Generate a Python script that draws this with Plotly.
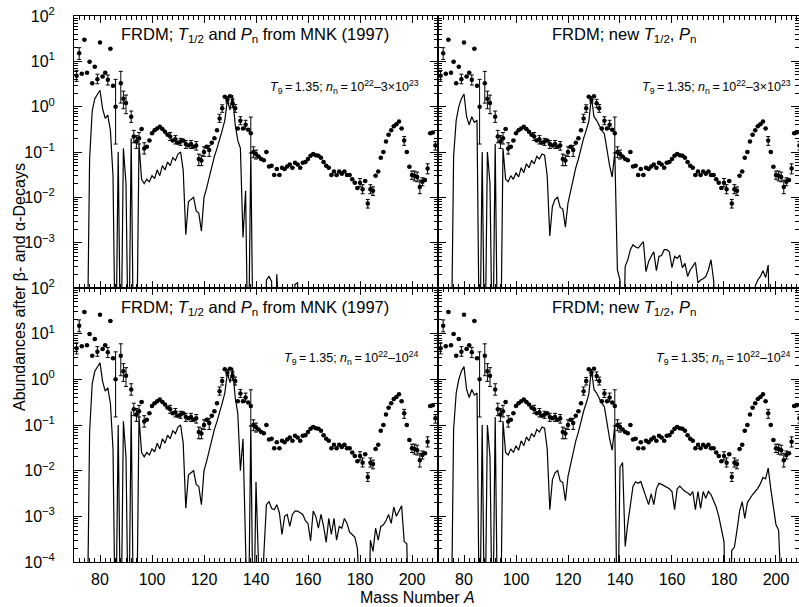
import plotly.graph_objects as go

# ---------------- data ----------------
A_line = list(range(70, 211))

# calculated abundances, A = 70..132 (MNK 1997 half-lives / Pn)
mnk_low = [1e-6, 1e-6, 1e-6, 1e-6, 1e-6, 1e-6, 0.07, 0.8, 1.5, 1.9,          # 70-79
           2.3, 0.9, 0.55, 0.65, 0.3, 0.03, 1e-6, 0.1, 1e-6, 0.12,           # 80-89
           0.02, 1e-6, 0.2, 1e-6, 1e-6, 0.15, 0.025, 0.02, 0.025, 0.022,     # 90-99
           0.03, 0.026, 0.04, 0.03, 0.05, 0.04, 0.06, 0.05, 0.075, 0.065,    # 100-109
           0.09, 0.1, 0.04, 0.0015, 0.008, 0.009, 0.01, 0.005, 0.0045, 0.0018,  # 110-119
           0.01, 0.016, 0.028, 0.05, 0.08, 0.12, 0.18, 0.3, 0.5, 1.4,        # 120-129
           0.85, 1.8, 0.4]                                                   # 130-132
# calculated abundances, A = 70..132 (new half-lives / Pn)
new_low = [1e-6, 1e-6, 1e-6, 1e-6, 1e-6, 1e-6, 0.08, 0.5, 1.0, 1.5,
           1.9, 0.6, 0.4, 0.6, 0.45, 0.5, 1e-6, 0.1, 1e-6, 0.1,
           0.02, 1e-6, 0.15, 1e-6, 1e-6, 0.12, 0.025, 0.022, 0.03, 0.025,
           0.035, 0.028, 0.045, 0.035, 0.055, 0.045, 0.065, 0.055, 0.08, 0.07,
           0.09, 0.085, 0.03, 0.0014, 0.0063, 0.009, 0.01, 0.006, 0.0055, 0.0022,
           0.0075, 0.014, 0.025, 0.045, 0.07, 0.12, 0.2, 0.3, 0.47, 1.66,
           0.6, 0.5, 0.38]

# A = 133..210 for each panel
tl_high = [0.18, 0.12, 0.0013, 0.014, 1e-6, 0.1, 1e-6,                      # 133-139
           1e-6, 1e-6, 1e-6, 1e-6, 1.5e-4, 1.8e-4, 1.4e-4, 1e-6, 2e-4, 1e-6,  # 140-149
           1e-6, 1e-6, 1e-6, 1e-6, 1e-6, 1.2e-4, 1.3e-4, 1e-6, 1e-6, 1e-6,   # 150-159
           1e-6, 1e-6, 1e-6, 1e-6, 1e-6, 1e-6, 1e-6, 1e-6, 1e-6, 1e-6,       # 160-169
           1e-6, 1e-6, 1e-6, 1e-6, 1e-6, 1e-6, 1e-6, 1e-6, 1e-6, 1e-6,       # 170-179
           1e-6, 1e-6, 1e-6, 1e-6, 1e-6, 1e-6, 1e-6, 1e-6, 1e-6, 1e-6,       # 180-189
           1e-6, 1e-6, 1e-6, 1e-6, 1e-6, 1e-6, 1e-6, 1e-6, 1e-6, 1e-6,       # 190-199
           1e-6, 1e-6, 1e-6, 1e-6, 1e-6, 1e-6, 1e-6, 1e-6, 1e-6, 1e-6, 1e-6]  # 200-210
tr_high = [0.3, 0.25, 0.1, 0.05, 0.028, 0.1, 2.5e-4,
           1.5e-4, 1e-6, 3e-4, 4.2e-4, 7e-4, 9e-4, 8e-4, 7.6e-4, 9e-4, 1.05e-3,
           2.3e-4, 3.8e-4, 5e-4, 6.3e-4, 2.4e-4, 5e-4, 5.2e-4, 7e-4, 7e-4, 6.3e-4,
           2.8e-4, 5e-4, 4.5e-4, 5.3e-4, 2.8e-4, 3.5e-4, 1.8e-4, 2.5e-4, 3e-4, 3.7e-4,
           1.3e-4, 1.5e-4, 1.6e-4, 1.8e-4, 2.5e-4, 4.2e-4, 1.5e-4, 1e-6, 1e-6, 1e-6,
           1e-6, 1e-6, 1e-6, 1e-6, 1e-6, 1e-6, 1e-6, 1e-6, 1e-6, 1e-6,
           1e-6, 1e-6, 1.1e-4, 1.5e-4, 1.8e-4, 2.4e-4, 1.7e-4, 3.2e-4, 1e-6, 1e-6,
           1e-6, 1e-6, 1e-6, 1e-6, 1e-6, 1e-6, 1e-6, 1e-6, 1e-6, 1e-6, 1e-6]
bl_high = [0.18, 0.01, 0.05, 2.2e-4, 1e-6, 0.1, 1e-6,
           0.0057, 1e-6, 1e-6, 1.4e-4, 0.0018, 0.0021, 0.0015, 0.0014, 0.0018, 0.0012,
           4e-4, 0.001, 0.0011, 6e-4, 0.0011, 0.0013, 0.0013, 0.0012, 0.0011, 8e-4,
           7e-4, 2.9e-4, 0.0013, 0.001, 5.5e-4, 0.0011, 6e-4, 2.7e-4, 9e-4, 4e-4,
           9e-4, 3e-4, 6e-4, 5.5e-4, 9e-4, 7e-4, 4.5e-4, 4e-4, 3.5e-4, 2e-4,
           1e-6, 1e-6, 1e-6, 1e-6, 3e-4, 1.7e-4, 5.5e-4, 3e-4, 6e-4, 6.5e-4,
           8e-4, 0.0011, 7e-4, 0.0016, 0.001, 0.0013, 0.0017, 2.8e-4, 2.5e-4, 1e-6,
           1e-6, 1e-6, 1e-6, 1e-6, 1e-6, 1e-6, 1e-6, 1e-6, 1e-6, 1e-6, 1e-6]
br_high = [0.3, 0.25, 0.1, 0.05, 0.028, 0.1, 1e-6,
           0.012, 0.015, 2.2e-4, 7e-4, 0.002, 0.0045, 0.0057, 0.0053, 0.0058, 0.004,
           0.0025, 0.0018, 0.0031, 0.0018, 0.004, 0.0053, 0.005, 0.0046, 0.0043, 0.004,
           0.0035, 0.0014, 0.004, 0.0046, 0.004, 0.0035, 0.0033, 0.0029, 0.0035, 0.0014,
           0.0035, 0.0015, 0.0035, 0.0025, 0.0035, 0.003, 0.0022, 0.0016, 0.001, 5e-4,
           2.8e-4, 1e-6, 1e-6, 1.8e-4, 2.1e-4, 5e-4, 0.0013, 0.0021, 9e-4, 0.002,
           0.0025, 0.003, 0.0035, 0.0041, 0.0052, 0.0071, 0.0066, 0.0114, 0.004, 0.0015,
           6.5e-4, 5e-4, 1e-6, 1e-6, 1e-6, 1e-6, 1e-6, 1e-6, 1e-6, 1e-6, 1e-6]

# solar r-process abundances (points)
A_sol = [71, 72, 73, 74, 75, 76, 77, 78, 79, 80,
         81, 82, 83, 84, 85, 86, 88, 89, 90] + list(range(92, 210))
Y_sol = [4.8, 15, 5.3, 30, 5.6, 9.8, 3.3, 7.6, 4.0, 26,
         4.6, 5.6, 3.9, 19, 2.9, 1.0, 3.3, 1.5, 1.2,
         0.6, 0.22, 0.17, 0.2, 0.32, 0.12, 0.13, 0.18,                    # 92-99
         0.26, 0.3, 0.33, 0.36, 0.32, 0.28, 0.24, 0.22, 0.18, 0.19,      # 100-109
         0.16, 0.17, 0.18, 0.15, 0.14, 0.15, 0.13, 0.14, 0.07, 0.065,    # 110-119
         0.1, 0.13, 0.11, 0.16, 0.2, 0.3, 0.55, 0.92, 1.66, 1.4,         # 120-129
         1.7, 1.19, 0.92, 0.33, 0.49, 0.33, 0.4, 0.31, 0.26, 0.1,        # 130-139
         0.09, 0.08, 0.07, 0.066, 0.1, 0.048, 0.05, 0.031, 0.042, 0.031, # 140-149
         0.045, 0.042, 0.048, 0.053, 0.045, 0.058, 0.053, 0.045, 0.058, 0.06,  # 150-159
         0.07, 0.083, 0.09, 0.085, 0.083, 0.075, 0.06, 0.05, 0.045, 0.031,     # 160-169
         0.037, 0.031, 0.037, 0.033, 0.037, 0.031, 0.031, 0.025, 0.021, 0.016, # 170-179
         0.021, 0.015, 0.023, 0.0073, 0.015, 0.014, 0.03, 0.037, 0.075, 0.1,   # 180-189
         0.17, 0.24, 0.3, 0.37, 0.41, 0.47, 0.33, 0.18, 0.1, 0.047,            # 190-199
         0.031, 0.03, 0.028, 0.017, 0.022, 0.024, 0.043, 0.26, 0.27, 0.14]     # 200-209
# error bars (mass number, lower end, upper end)
A_err = [71, 72, 79, 83, 86, 88, 89, 90, 92, 93, 94, 95, 97, 107, 109, 111, 113, 115, 117,
         118, 119, 120, 122, 126, 127, 129, 131, 132, 134, 136, 138, 139, 140,
         180, 181, 183, 184, 185, 197, 200, 201, 202, 203, 204, 206, 209]
Y_err_lo = [3.6, 11, 3.2, 3.0, 0.15, 1.2, 0.9, 0.7, 0.45, 0.16, 0.12, 0.15, 0.09, 0.18, 0.15, 0.14, 0.12, 0.12, 0.11,
            0.05, 0.05, 0.08, 0.08, 0.45, 0.75, 1.2, 0.95, 0.75, 0.4, 0.32, 0.095, 0.075, 0.07,
            0.017, 0.012, 0.0058, 0.012, 0.011, 0.14, 0.025, 0.023, 0.022, 0.012, 0.018, 0.033, 0.11]
Y_err_hi = [6.3, 20, 5.2, 5.0, 4.0, 6.0, 2.2, 1.8, 0.8, 0.3, 0.23, 0.27, 0.16, 0.27, 0.23, 0.2, 0.18, 0.18, 0.17,
            0.09, 0.085, 0.13, 0.14, 0.68, 1.1, 1.65, 1.45, 1.12, 0.6, 0.5, 0.59, 0.13, 0.11,
            0.026, 0.019, 0.009, 0.019, 0.017, 0.22, 0.038, 0.038, 0.036, 0.024, 0.027, 0.055, 0.17]

panel_titles = ["FRDM; <i>T</i><sub>1/2</sub> and <i>P</i><sub>n</sub> from MNK (1997)",
                "FRDM; new <i>T</i><sub>1/2</sub>, <i>P</i><sub>n</sub>"]
cond_top = "<i>T</i><sub>9</sub>\u2009=\u20091.35; <i>n</i><sub>n</sub>\u2009=\u200910<sup>22</sup>\u20133\u00d710<sup>23</sup>"
cond_bot = "<i>T</i><sub>9</sub>\u2009=\u20091.35; <i>n</i><sub>n</sub>\u2009=\u200910<sup>22</sup>\u201310<sup>24</sup>"
x_ticks = [80, 100, 120, 140, 160, 180, 200]
y_tickvals = [1e-4, 1e-3, 1e-2, 1e-1, 1, 10, 100]
y_ticktext = ["10<sup>\u22124</sup>", "10<sup>\u22123</sup>", "10<sup>\u22122</sup>", "10<sup>\u22121</sup>",
              "10<sup>0</sup>", "10<sup>1</sup>", "10<sup>2</sup>"]

# ---------------- figure ----------------
W, H = 799, 607
def fx(p): return p / W
def fy(p): return 1 - p / H

err_plus, err_minus = [], []
for a, y in zip(A_sol, Y_sol):
    if a in A_err:
        i = A_err.index(a)
        err_plus.append(Y_err_hi[i] - y)
        err_minus.append(y - Y_err_lo[i])
    else:
        err_plus.append(0)
        err_minus.append(0)

lines = [mnk_low + tl_high, new_low + tr_high, mnk_low + bl_high, new_low + br_high]

fig = go.Figure()
for k in range(4):
    xa = "x" if k == 0 else f"x{k+1}"
    ya = "y" if k == 0 else f"y{k+1}"
    fig.add_trace(go.Scatter(x=A_line, y=lines[k], mode="lines",
                             line=dict(color="black", width=1.2),
                             xaxis=xa, yaxis=ya, showlegend=False, hoverinfo="skip"))
    fig.add_trace(go.Scatter(x=A_sol, y=Y_sol, mode="markers",
                             marker=dict(color="black", size=4.5),
                             error_y=dict(type="data", array=err_plus, arrayminus=err_minus,
                                          color="black", thickness=1, width=2),
                             xaxis=xa, yaxis=ya, showlegend=False, hoverinfo="skip"))

minor_vals = [m * 10.0 ** e for e in range(-4, 2) for m in range(2, 10)]
xdom_l = [fx(74), fx(438)]
xdom_r = [fx(438), 1.0]
ydom_t = [fy(288), fy(16)]
ydom_b = [fy(562), fy(288)]
font_tick = dict(family="Liberation Sans, Arial, sans-serif", size=16, color="black")

def xax(dom, rng, anchor, labels):
    return dict(domain=dom, range=rng, anchor=anchor, showgrid=False, zeroline=False,
                automargin=False,
                showline=True, linecolor="black", linewidth=1, mirror="allticks",
                ticks="inside", ticklen=7, tickwidth=1, tickcolor="black",
                tickmode="array", tickvals=x_ticks, ticktext=[str(v) for v in x_ticks],
                showticklabels=labels, tickfont=font_tick, ticklabelstandoff=3,
                minor=dict(ticks="inside", ticklen=4, dtick=2, tick0=0, tickcolor="black", showgrid=False))

def yax(dom, anchor, labels, texts):
    return dict(domain=dom, type="log", range=[-4, 2], anchor=anchor, showgrid=False, zeroline=False,
                automargin=False,
                showline=True, linecolor="black", linewidth=1, mirror="allticks",
                ticks="inside", ticklen=8, tickwidth=1, tickcolor="black",
                tickmode="array", tickvals=y_tickvals, ticktext=texts,
                showticklabels=labels, tickfont=font_tick, ticklabelstandoff=15,
                minor=dict(ticks="inside", ticklen=4, tickmode="array", tickvals=minor_vals,
                           tickcolor="black", showgrid=False))

top_text = [""] + y_ticktext[1:]
fig.update_layout(
    width=W, height=H, margin=dict(l=0, r=0, t=0, b=0, autoexpand=False),
    paper_bgcolor="white", plot_bgcolor="white",
    font=dict(family="Liberation Sans, Arial, sans-serif", color="black"),
    xaxis=xax(xdom_l, [70, 210], "y", False),
    xaxis2=xax(xdom_r, [70, 208.85], "y2", False),
    xaxis3=xax(xdom_l, [70, 210], "y3", True),
    xaxis4=xax(xdom_r, [70, 208.85], "y4", True),
    yaxis=yax(ydom_t, "x", True, top_text),
    yaxis2=yax(ydom_t, "x2", False, y_ticktext),
    yaxis3=yax(ydom_b, "x3", True, y_ticktext),
    yaxis4=yax(ydom_b, "x4", False, y_ticktext),
)

ann = []
f_title = dict(family="Liberation Sans, Arial, sans-serif", size=16.5, color="black")
f_cond = dict(family="Liberation Sans, Arial, sans-serif", size=12.5, color="black")
for (tx, ty, txt) in [(119, 35, panel_titles[0]), (550, 35, panel_titles[1]),
                      (119, 308, panel_titles[0]), (550, 308, panel_titles[1])]:
    ann.append(dict(x=fx(tx), y=fy(ty), xref="paper", yref="paper", text=txt, showarrow=False,
                    xanchor="left", yanchor="middle", font=f_title))
for (tx, ty, txt) in [(421, 87, cond_top), (793, 87, cond_top), (421, 358, cond_bot), (793, 358, cond_bot)]:
    ann.append(dict(x=fx(tx), y=fy(ty), xref="paper", yref="paper", text=txt, showarrow=False,
                    xanchor="right", yanchor="middle", font=f_cond))
ann.append(dict(x=fx(19), y=fy(287), xref="paper", yref="paper", text="Abundances after \u03b2- and \u03b1-Decays",
                showarrow=False, textangle=-90, xanchor="center", yanchor="middle",
                font=dict(family="Liberation Sans, Arial, sans-serif", size=16, color="black")))
ann.append(dict(x=fx(417), y=fy(597), xref="paper", yref="paper", text="Mass Number <i>A</i>",
                showarrow=False, xanchor="center", yanchor="middle",
                font=dict(family="Liberation Sans, Arial, sans-serif", size=16, color="black")))
fig.update_layout(annotations=ann)

fig.write_html("out.html", config={"displayModeBar": False},
               post_script="document.body.style.margin='0px';document.body.style.overflow='hidden';")
